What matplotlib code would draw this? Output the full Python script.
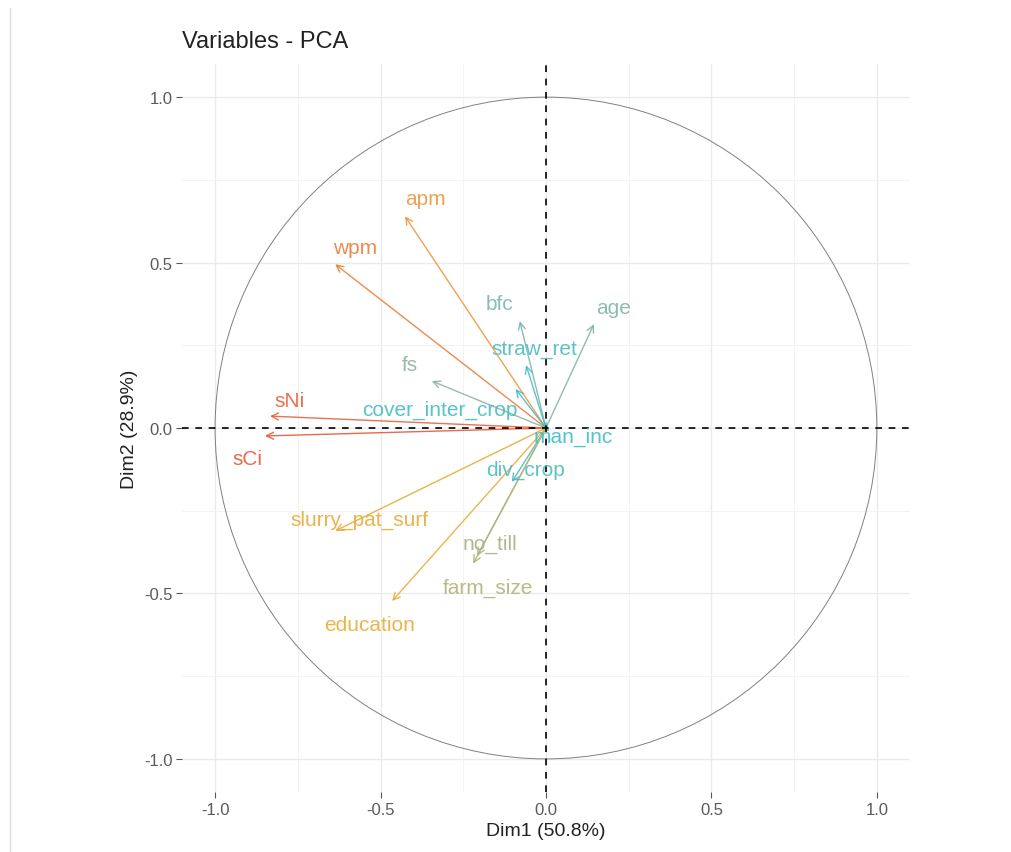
import matplotlib
matplotlib.use("Agg")
import matplotlib.pyplot as plt
import numpy as np
from matplotlib.colors import LinearSegmentedColormap, Normalize
from matplotlib.patches import Circle, FancyArrowPatch
from matplotlib.lines import Line2D

plt.rcParams['font.family'] = ['Liberation Sans', 'DejaVu Sans']

variables = ["apm", "wpm", "bfc", "straw_ret", "cover_inter_crop", "fs", "age",
             "sNi", "sCi", "man_inc", "div_crop", "slurry_pat_surf", "no_till",
             "farm_size", "education"]
dim1 = [-0.426, -0.637, -0.079, -0.060, -0.092, -0.345, 0.145,
        -0.834, -0.849, 0.010, -0.103, -0.637, -0.208, -0.220, -0.465]
dim2 = [0.640, 0.495, 0.323, 0.190, 0.118, 0.142, 0.314,
        0.036, -0.024, -0.010, -0.163, -0.311, -0.387, -0.410, -0.523]
# label positions (repelled text)
lab_x = [-0.365, -0.578, -0.140, -0.035, -0.320, -0.410, 0.203,
         -0.775, -0.903, 0.082, -0.063, -0.565, -0.170, -0.175, -0.532]
lab_y = [0.693, 0.545, 0.375, 0.239, 0.057, 0.193, 0.365,
         0.082, -0.091, -0.024, -0.124, -0.275, -0.350, -0.483, -0.593]

title = "Variables - PCA"
xlabel = "Dim1 (50.8%)"
ylabel = "Dim2 (28.9%)"
ticks = [-1.0, -0.5, 0.0, 0.5, 1.0]
tick_labels = ["-1.0", "-0.5", "0.0", "0.5", "1.0"]

fig = plt.figure(figsize=(10.11, 8.53), dpi=100)
ax = fig.add_axes([0.180, 0.0703, 0.720, 0.8535])
ax.set_xlim(-1.1, 1.1)
ax.set_ylim(-1.1, 1.1)
ax.set_aspect('equal', adjustable='box')

for s in ax.spines.values():
    s.set_visible(False)
ax.set_xticks(ticks)
ax.set_xticklabels(tick_labels)
ax.set_yticks(ticks)
ax.set_yticklabels(tick_labels)
ax.set_xticks([-0.75, -0.25, 0.25, 0.75], minor=True)
ax.set_yticks([-0.75, -0.25, 0.25, 0.75], minor=True)
ax.grid(which='major', color='#ebebeb', linewidth=1.0)
ax.grid(which='minor', color='#f3f3f3', linewidth=0.7)
ax.tick_params(which='major', length=4, color='#555555', labelsize=12,
               labelcolor='#5a5a5a', pad=3)
ax.tick_params(which='minor', length=0)
ax.set_axisbelow(True)

circle = Circle((0, 0), 1.0, fill=False, edgecolor='#808080', linewidth=0.7)
ax.add_patch(circle)
ax.axhline(0, color='black', linestyle=(0, (4, 4)), linewidth=1.2)
ax.axvline(0, color='black', linestyle=(0, (4, 4)), linewidth=1.2)

cos2 = np.array(dim1) ** 2 + np.array(dim2) ** 2
cmap = LinearSegmentedColormap.from_list(
    "fx", [(0.0, "#3ebdc6"), (0.1, "#5cbcbc"), (0.2, "#93b2a0"), (0.32, "#b8b472"),
           (0.68, "#e6ae38"), (0.84, "#ec9640"), (1.0, "#e8573a")])
norm = Normalize(vmin=cos2.min(), vmax=cos2.max())

for name, x, y, lx, ly, c in zip(variables, dim1, dim2, lab_x, lab_y, cos2):
    col = cmap(norm(c))
    arr = FancyArrowPatch((0, 0), (x, y), arrowstyle='->,head_length=5,head_width=2.5',
                          color=col, linewidth=1.0, mutation_scale=1.0,
                          shrinkA=0, shrinkB=0, alpha=0.9)
    ax.add_patch(arr)
    ax.text(lx, ly, name, color=col, fontsize=15, ha='center', va='center', alpha=0.9)

ax.set_xlabel(xlabel, fontsize=14, color='#222222', labelpad=4)
ax.set_ylabel(ylabel, fontsize=14, color='#222222', labelpad=4)
fig.text(0.180, 0.951, title, fontsize=17, color='#222222', ha='left', va='center')

fig.add_artist(Line2D([0.010, 0.010], [0.0, 0.99], transform=fig.transFigure,
                      color='#dddddd', linewidth=1.0))

fig.savefig("out.png", dpi=100, facecolor='white')
